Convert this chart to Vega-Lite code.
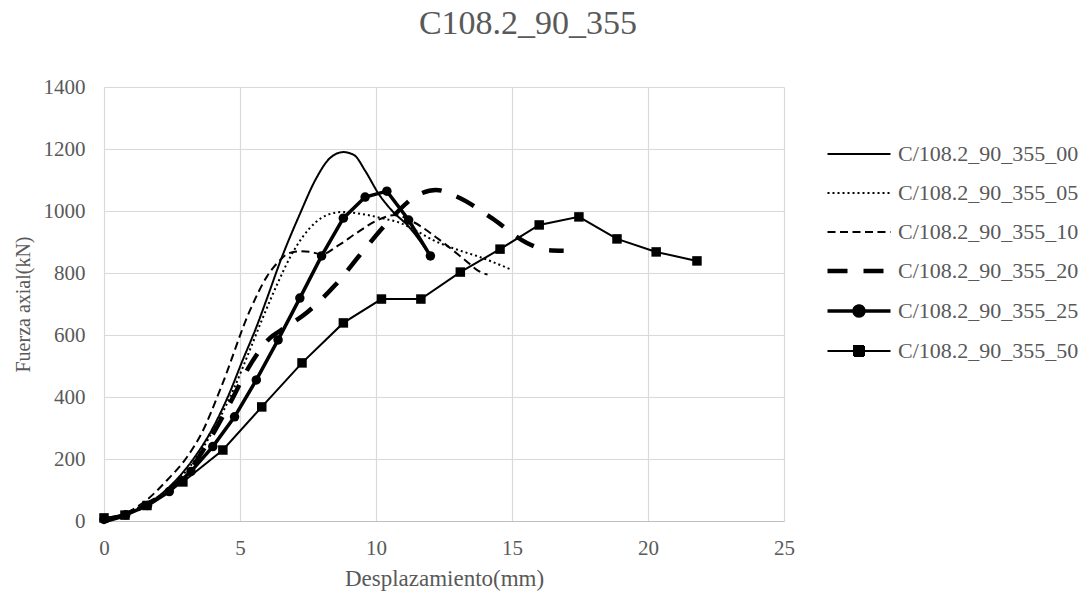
{
  "$schema": "https://vega.github.io/schema/vega-lite/v6.json",
  "width": 680,
  "height": 434,
  "autosize": "none",
  "padding": {"left": 104, "top": 87, "right": 299, "bottom": 75},
  "background": "white",
  "config": {
    "font": "'Liberation Serif', 'Times New Roman', serif",
    "view": {"stroke": null},
    "axis": {
      "labelFont": "'Liberation Serif', 'Times New Roman', serif",
      "titleFont": "'Liberation Serif', 'Times New Roman', serif",
      "labelColor": "#595959",
      "titleColor": "#595959",
      "labelFontSize": 21,
      "titleFontSize": 20,
      "titleFontWeight": "normal",
      "gridColor": "#d9d9d9",
      "gridWidth": 1.2,
      "ticks": false
    }
  },
  "title": {
    "text": "C108.2_90_355",
    "font": "'Liberation Serif', 'Times New Roman', serif",
    "fontSize": 34,
    "fontWeight": "normal",
    "color": "#595959",
    "anchor": "middle",
    "dx": 84,
    "offset": 35
  },
  "data": {
    "values": [
      {"s": "C/108.2_90_355_00", "x": 0, "y": 0},
      {"s": "C/108.2_90_355_00", "x": 0.8, "y": 20},
      {"s": "C/108.2_90_355_00", "x": 1.6, "y": 55},
      {"s": "C/108.2_90_355_00", "x": 2.4, "y": 110},
      {"s": "C/108.2_90_355_00", "x": 3.2, "y": 190},
      {"s": "C/108.2_90_355_00", "x": 4.0, "y": 300},
      {"s": "C/108.2_90_355_00", "x": 4.6, "y": 410},
      {"s": "C/108.2_90_355_00", "x": 5.1, "y": 519},
      {"s": "C/108.2_90_355_00", "x": 5.6, "y": 625},
      {"s": "C/108.2_90_355_00", "x": 6.0, "y": 720},
      {"s": "C/108.2_90_355_00", "x": 6.5, "y": 842},
      {"s": "C/108.2_90_355_00", "x": 7.2, "y": 990},
      {"s": "C/108.2_90_355_00", "x": 7.8, "y": 1105},
      {"s": "C/108.2_90_355_00", "x": 8.3, "y": 1170},
      {"s": "C/108.2_90_355_00", "x": 8.8, "y": 1190},
      {"s": "C/108.2_90_355_00", "x": 9.2, "y": 1180},
      {"s": "C/108.2_90_355_00", "x": 9.6, "y": 1130},
      {"s": "C/108.2_90_355_00", "x": 10.1, "y": 1055},
      {"s": "C/108.2_90_355_00", "x": 10.6, "y": 1000},
      {"s": "C/108.2_90_355_00", "x": 11.2, "y": 950},
      {"s": "C/108.2_90_355_00", "x": 11.9, "y": 868},

      {"s": "C/108.2_90_355_05", "x": 0, "y": 0},
      {"s": "C/108.2_90_355_05", "x": 0.8, "y": 20},
      {"s": "C/108.2_90_355_05", "x": 1.6, "y": 55},
      {"s": "C/108.2_90_355_05", "x": 2.4, "y": 105},
      {"s": "C/108.2_90_355_05", "x": 3.2, "y": 180},
      {"s": "C/108.2_90_355_05", "x": 4.0, "y": 290},
      {"s": "C/108.2_90_355_05", "x": 4.8, "y": 432},
      {"s": "C/108.2_90_355_05", "x": 5.4, "y": 560},
      {"s": "C/108.2_90_355_05", "x": 5.85, "y": 658},
      {"s": "C/108.2_90_355_05", "x": 6.4, "y": 770},
      {"s": "C/108.2_90_355_05", "x": 6.85, "y": 852},
      {"s": "C/108.2_90_355_05", "x": 7.3, "y": 916},
      {"s": "C/108.2_90_355_05", "x": 7.8, "y": 965},
      {"s": "C/108.2_90_355_05", "x": 8.2, "y": 987},
      {"s": "C/108.2_90_355_05", "x": 8.8, "y": 997},
      {"s": "C/108.2_90_355_05", "x": 9.5, "y": 990},
      {"s": "C/108.2_90_355_05", "x": 10.2, "y": 977},
      {"s": "C/108.2_90_355_05", "x": 10.9, "y": 961},
      {"s": "C/108.2_90_355_05", "x": 11.5, "y": 935},
      {"s": "C/108.2_90_355_05", "x": 12.1, "y": 906},
      {"s": "C/108.2_90_355_05", "x": 13.0, "y": 875},
      {"s": "C/108.2_90_355_05", "x": 13.8, "y": 852},
      {"s": "C/108.2_90_355_05", "x": 15.0, "y": 810},

      {"s": "C/108.2_90_355_10", "x": 0, "y": 0},
      {"s": "C/108.2_90_355_10", "x": 0.8, "y": 25},
      {"s": "C/108.2_90_355_10", "x": 1.6, "y": 70},
      {"s": "C/108.2_90_355_10", "x": 2.3, "y": 130},
      {"s": "C/108.2_90_355_10", "x": 3.0, "y": 200},
      {"s": "C/108.2_90_355_10", "x": 3.6, "y": 285},
      {"s": "C/108.2_90_355_10", "x": 4.3, "y": 430},
      {"s": "C/108.2_90_355_10", "x": 5.37, "y": 680},
      {"s": "C/108.2_90_355_10", "x": 6.0, "y": 790},
      {"s": "C/108.2_90_355_10", "x": 6.4, "y": 835},
      {"s": "C/108.2_90_355_10", "x": 6.8, "y": 864},
      {"s": "C/108.2_90_355_10", "x": 7.2, "y": 870},
      {"s": "C/108.2_90_355_10", "x": 7.6, "y": 868},
      {"s": "C/108.2_90_355_10", "x": 8.0, "y": 860},
      {"s": "C/108.2_90_355_10", "x": 8.6, "y": 888},
      {"s": "C/108.2_90_355_10", "x": 9.3, "y": 930},
      {"s": "C/108.2_90_355_10", "x": 10.0, "y": 968},
      {"s": "C/108.2_90_355_10", "x": 10.7, "y": 987},
      {"s": "C/108.2_90_355_10", "x": 11.36, "y": 965},
      {"s": "C/108.2_90_355_10", "x": 12.35, "y": 906},
      {"s": "C/108.2_90_355_10", "x": 13.27, "y": 842},
      {"s": "C/108.2_90_355_10", "x": 13.8, "y": 805},
      {"s": "C/108.2_90_355_10", "x": 14.1, "y": 795},

      {"s": "C/108.2_90_355_20", "x": 0, "y": 0},
      {"s": "C/108.2_90_355_20", "x": 0.8, "y": 20},
      {"s": "C/108.2_90_355_20", "x": 1.6, "y": 55},
      {"s": "C/108.2_90_355_20", "x": 2.4, "y": 100},
      {"s": "C/108.2_90_355_20", "x": 3.2, "y": 170},
      {"s": "C/108.2_90_355_20", "x": 3.9, "y": 265},
      {"s": "C/108.2_90_355_20", "x": 4.63, "y": 380},
      {"s": "C/108.2_90_355_20", "x": 5.37, "y": 503},
      {"s": "C/108.2_90_355_20", "x": 6.1, "y": 590},
      {"s": "C/108.2_90_355_20", "x": 6.5, "y": 615},
      {"s": "C/108.2_90_355_20", "x": 7.45, "y": 672},
      {"s": "C/108.2_90_355_20", "x": 8.5, "y": 761},
      {"s": "C/108.2_90_355_20", "x": 9.5, "y": 868},
      {"s": "C/108.2_90_355_20", "x": 10.4, "y": 961},
      {"s": "C/108.2_90_355_20", "x": 11.55, "y": 1052},
      {"s": "C/108.2_90_355_20", "x": 12.2, "y": 1068},
      {"s": "C/108.2_90_355_20", "x": 13.0, "y": 1045},
      {"s": "C/108.2_90_355_20", "x": 14.26, "y": 977},
      {"s": "C/108.2_90_355_20", "x": 15.55, "y": 897},
      {"s": "C/108.2_90_355_20", "x": 16.3, "y": 874},
      {"s": "C/108.2_90_355_20", "x": 16.9, "y": 872},

      {"s": "C/108.2_90_355_25", "x": 0, "y": 5},
      {"s": "C/108.2_90_355_25", "x": 0.8, "y": 20},
      {"s": "C/108.2_90_355_25", "x": 1.6, "y": 50},
      {"s": "C/108.2_90_355_25", "x": 2.4, "y": 95},
      {"s": "C/108.2_90_355_25", "x": 3.2, "y": 160},
      {"s": "C/108.2_90_355_25", "x": 4.0, "y": 240},
      {"s": "C/108.2_90_355_25", "x": 4.8, "y": 336},
      {"s": "C/108.2_90_355_25", "x": 5.6, "y": 455},
      {"s": "C/108.2_90_355_25", "x": 6.4, "y": 584},
      {"s": "C/108.2_90_355_25", "x": 7.2, "y": 719},
      {"s": "C/108.2_90_355_25", "x": 8.0, "y": 855},
      {"s": "C/108.2_90_355_25", "x": 8.8, "y": 977},
      {"s": "C/108.2_90_355_25", "x": 9.6, "y": 1045},
      {"s": "C/108.2_90_355_25", "x": 10.4, "y": 1064},
      {"s": "C/108.2_90_355_25", "x": 11.2, "y": 971},
      {"s": "C/108.2_90_355_25", "x": 12.0, "y": 855},

      {"s": "C/108.2_90_355_50", "x": 0, "y": 10},
      {"s": "C/108.2_90_355_50", "x": 0.77, "y": 19},
      {"s": "C/108.2_90_355_50", "x": 1.58, "y": 50},
      {"s": "C/108.2_90_355_50", "x": 2.9, "y": 126},
      {"s": "C/108.2_90_355_50", "x": 4.37, "y": 229},
      {"s": "C/108.2_90_355_50", "x": 5.8, "y": 368},
      {"s": "C/108.2_90_355_50", "x": 7.28, "y": 510},
      {"s": "C/108.2_90_355_50", "x": 8.8, "y": 639},
      {"s": "C/108.2_90_355_50", "x": 10.2, "y": 716},
      {"s": "C/108.2_90_355_50", "x": 11.65, "y": 716},
      {"s": "C/108.2_90_355_50", "x": 13.1, "y": 803},
      {"s": "C/108.2_90_355_50", "x": 14.56, "y": 877},
      {"s": "C/108.2_90_355_50", "x": 16.0, "y": 955},
      {"s": "C/108.2_90_355_50", "x": 17.46, "y": 981},
      {"s": "C/108.2_90_355_50", "x": 18.86, "y": 910},
      {"s": "C/108.2_90_355_50", "x": 20.3, "y": 868},
      {"s": "C/108.2_90_355_50", "x": 21.8, "y": 839}
    ]
  },
  "encoding": {
    "x": {
      "field": "x", "type": "quantitative",
      "scale": {"domain": [0, 25], "nice": false, "zero": false},
      "axis": {"values": [0, 5, 10, 15, 20, 25], "format": "d", "title": "Desplazamiento(mm)", "titleFontSize": 23, "labelPadding": 16, "titlePadding": 9, "domainColor": "#bfbfbf", "domainWidth": 1.2, "labelFlush": false}
    },
    "y": {
      "field": "y", "type": "quantitative",
      "scale": {"domain": [0, 1400], "nice": false},
      "axis": {"values": [0, 200, 400, 600, 800, 1000, 1200, 1400], "format": "d", "title": "Fuerza axial(kN)", "labelPadding": 19, "titlePadding": 10, "domain": false}
    }
  },
  "layer": [
    {
      "transform": [{"filter": "datum.s !== 'C/108.2_90_355_25' && datum.s !== 'C/108.2_90_355_50'"}],
      "mark": {"type": "line", "interpolate": "monotone", "color": "black"},
      "encoding": {
        "detail": {"field": "s"},
        "strokeDash": {
          "field": "s", "type": "nominal",
          "scale": {
            "domain": ["C/108.2_90_355_00", "C/108.2_90_355_05", "C/108.2_90_355_10", "C/108.2_90_355_20", "C/108.2_90_355_25", "C/108.2_90_355_50"],
            "range": [[1, 0], [2, 3], [8, 4.5], [20, 16], [1, 0], [1, 0]]
          },
          "legend": {
            "title": null,
            "orient": "none",
            "legendX": 744,
            "legendY": 56,
            "padding": 0,
            "symbolSize": 100,
            "symbolStrokeColor": "black",
            "symbolFillColor": "black",
            "labelFont": "'Liberation Serif', 'Times New Roman', serif",
            "labelFontSize": 22,
            "labelColor": "#595959",
            "labelLimit": 400,
            "labelOffset": 28,
            "rowPadding": 17,
            "encode": {
              "symbols": {
                "update": {
                  "shape": {"signal": "datum.value === 'C/108.2_90_355_25' ? 'M-6.3,0H6.3M-1,0A1,1 0 1,1 1,0A1,1 0 1,1 -1,0Z' : datum.value === 'C/108.2_90_355_50' ? 'M-6.3,0H6.3M-1,-1H1V1H-1Z' : 'M-6.3,0H6.3'"},
                  "strokeWidth": {"signal": "datum.value === 'C/108.2_90_355_20' ? 4.5 : datum.value === 'C/108.2_90_355_25' ? 3.5 : 2"},
                  "fill": {"value": "black"},
                  "stroke": {"value": "black"}
                }
              }
            }
          }
        },
        "strokeWidth": {
          "field": "s", "type": "nominal",
          "scale": {
            "type": "ordinal",
            "domain": ["C/108.2_90_355_00", "C/108.2_90_355_05", "C/108.2_90_355_10", "C/108.2_90_355_20", "C/108.2_90_355_25", "C/108.2_90_355_50"],
            "range": [2, 2, 2, 4.5, 3.5, 2]
          },
          "legend": null
        }
      }
    },
    {
      "transform": [{"filter": "datum.s === 'C/108.2_90_355_25'"}],
      "mark": {"type": "line", "color": "black", "strokeWidth": 3.5}
    },
    {
      "transform": [{"filter": "datum.s === 'C/108.2_90_355_50'"}],
      "mark": {"type": "line", "color": "black", "strokeWidth": 2}
    },
    {
      "transform": [{"filter": "datum.s === 'C/108.2_90_355_25'"}],
      "mark": {"type": "point", "shape": "circle", "filled": true, "color": "black", "size": 90, "opacity": 1}
    },
    {
      "transform": [{"filter": "datum.s === 'C/108.2_90_355_50'"}],
      "mark": {"type": "point", "shape": "square", "filled": true, "color": "black", "size": 90, "opacity": 1}
    }
  ]
}
